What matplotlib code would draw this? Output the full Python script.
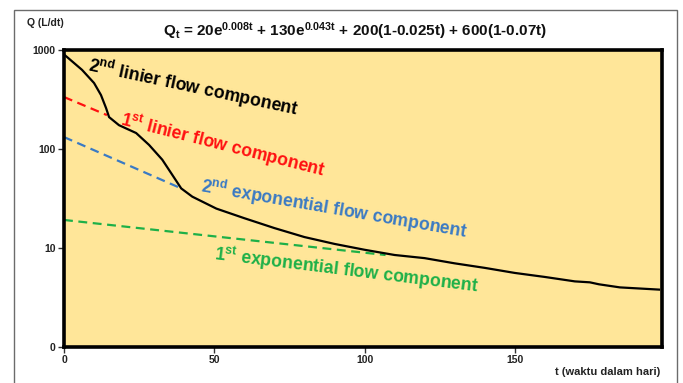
import numpy as np
import matplotlib
matplotlib.use("Agg")
import matplotlib.pyplot as plt
from matplotlib.patches import Rectangle

plt.rcParams['font.family'] = ['Liberation Sans', 'DejaVu Sans']
plt.rcParams['mathtext.fontset'] = 'custom'
plt.rcParams['mathtext.rm'] = 'Liberation Sans'
plt.rcParams['mathtext.bf'] = 'Liberation Sans:bold'
plt.rcParams['mathtext.it'] = 'Liberation Sans:italic'

# ---- data ----
t_total = [0, 1, 6, 10, 12.3, 14, 15, 18.3, 24, 28.3, 32.7, 36, 39, 42.7, 50.7,
           60, 70, 80, 90, 100, 110, 120, 130, 140, 150, 160, 170, 175, 178,
           185, 198]
q_total = [900, 850, 630, 464, 351, 259, 210, 174, 145, 110, 78, 55, 40, 33, 25,
           20, 15.9, 12.9, 11.0, 9.6, 8.5, 7.9, 7.0, 6.3, 5.6, 5.1, 4.6, 4.5, 4.3,
           4.0, 3.8]

t_lin1 = [0, 14.3]
q_lin1 = [335, 220]

t_exp2 = [0, 39]
q_exp2 = [132, 40]

t_exp1 = [0, 107]
q_exp1 = [19.2, 8.5]

y_ticks = [1, 10, 100, 1000]
y_ticklabels = ["0", "10", "100", "1000"]
x_ticks = [0, 50, 100, 150]
x_ticklabels = ["0", "50", "100", "150"]

W, H = 683, 383
fig = plt.figure(figsize=(W / 100, H / 100), dpi=100)

# outer frame
fig.patches.append(Rectangle((14 / W, -0.05), (677 - 14) / W, 1 - 10 / H + 0.05,
                             transform=fig.transFigure, fill=False,
                             edgecolor='#6b6b6b', lw=1.0))

L, R, T, B = 64, 662, 50, 347
ax = fig.add_axes([L / W, 1 - B / H, (R - L) / W, (B - T) / H])
ax.set_facecolor('#FFE699')
ax.set_yscale('log')
ax.set_xlim(0, 199)
ax.set_ylim(1, 1000)
for s in ax.spines.values():
    s.set_linewidth(2.6)
    s.set_color('black')

ax.set_yticks(y_ticks)
ax.set_yticklabels(y_ticklabels)
ax.yaxis.set_minor_locator(matplotlib.ticker.NullLocator())
ax.set_xticks(x_ticks)
ax.set_xticklabels(x_ticklabels)
ax.tick_params(axis='both', direction='out', length=4, width=1.0, color='#333333',
               labelsize=7.5, pad=2)
for lbl in ax.get_xticklabels() + ax.get_yticklabels():
    lbl.set_fontweight('bold')
    lbl.set_color('#222222')

dash = (0, (4, 2.5))
ax.plot(t_lin1, q_lin1, color='#FF1010', lw=1.6, linestyle=dash)
ax.plot(t_exp2, q_exp2, color='#3A7AC4', lw=1.6, linestyle=dash)
ax.plot(t_exp1, q_exp1, color='#1DB048', lw=1.6, linestyle=dash)
ax.plot(t_total, q_total, color='black', lw=1.6, solid_joinstyle='round')


def px(x, y):
    return ((x - L) / (R - L), (B - y) / (B - T))


labels = [
    (r"2$^{\mathbf{nd}}$ linier flow component", 87, 71, -12, 'black'),
    (r"1$^{\mathbf{st}}$ linier flow component", 119, 125, -14.2, '#FF1010'),
    (r"2$^{\mathbf{nd}}$ exponential flow component", 200, 192, -9.8, '#3A7AC4'),
    (r"1$^{\mathbf{st}}$ exponential flow component", 214, 260, -7, '#1DB048'),
]
for txt, x, y, rot, c in labels:
    ax.text(*px(x, y), txt, transform=ax.transAxes, rotation=rot,
            rotation_mode='anchor', ha='left', va='baseline', color=c,
            fontsize=12.7, fontweight='bold')

fig.text(355 / W, 1 - 31 / H,
         r"Q$_\mathbf{t}$ = 20e$^{\mathbf{0.008t}}$ + 130e$^{\mathbf{0.043t}}$ + 200(1-0.025t) + 600(1-0.07t)",
         ha='center', va='center', fontsize=11, fontweight='bold', color='#111111')
fig.text(27 / W, 1 - 23 / H, "Q (L/dt)", ha='left', va='center', fontsize=7.5,
         fontweight='bold', color='#222222')
fig.text(660 / W, 1 - 372 / H, "t (waktu dalam hari)", ha='right', va='center',
         fontsize=8, fontweight='bold', color='#222222')

fig.savefig("out.png", dpi=100)
